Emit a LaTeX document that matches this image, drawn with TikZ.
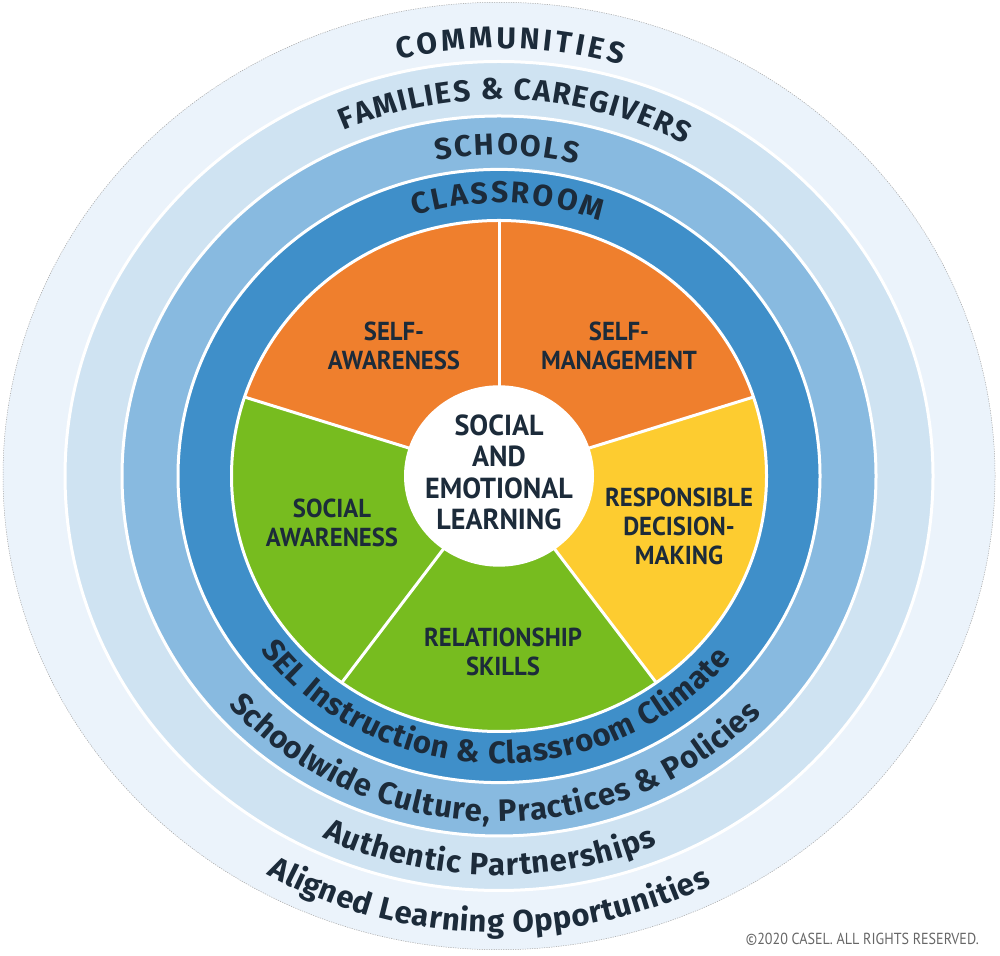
\documentclass[tikz,border=0pt]{standalone}
\usepackage{fontspec}
\setmainfont{PT Sans}
\newfontfamily\lblfont{PT Sans}[FakeStretch=0.95]
\newfontfamily\ctrfont{PT Sans}[FakeStretch=0.97]
\newfontfamily\copyfont{PT Sans}[FakeStretch=0.88]
\newfontfamily\ringfont{Fira Sans}
\definecolor{ringA}{HTML}{EBF3FB}
\definecolor{ringB}{HTML}{CFE3F2}
\definecolor{ringC}{HTML}{88BAE0}
\definecolor{ringD}{HTML}{3F8FC9}
\definecolor{orangeC}{HTML}{EF7F2D}
\definecolor{yellowC}{HTML}{FDCC30}
\definecolor{greenC}{HTML}{77BC1F}
\definecolor{navy}{HTML}{1C2B3A}
\definecolor{copyc}{HTML}{666666}
\newcommand{\ky}{0.955}
\newcommand{\toptxt}{\ringfont\bfseries\fontsize{30}{31}\selectfont}
\newcommand{\bottxt}{\ringfont\bfseries\fontsize{31}{33}\selectfont}
\newdimen\arcW \newdimen\arcP \newdimen\chW
\newcount\arcN
\newbox\arcbox
\newcommand{\arcmeasure}[1]{%
  \pgfinterruptpicture\global\setbox\arcbox=\hbox{#1}\endpgfinterruptpicture
  \global\chW=\wd\arcbox}
% #1 radius, #2 start angle, #3 end angle, #4 font, #5 letters, #6 name prefix
\newcommand{\arclabel}[6]{%
  \global\arcW=0pt \global\arcN=0
  \foreach \ch in {#5}{\arcmeasure{#4\ch}\global\advance\arcW by \chW \global\advance\arcN by 1 }%
  \pgfmathsetmacro{\arcL}{abs(#3-#2)*pi/180*#1}%
  \pgfmathsetmacro{\arcS}{(\arcL-\arcW)/(\arcN-1)}%
  \pgfmathsetmacro{\arcD}{sign(#3-#2)}%
  \pgfmathsetmacro{\arcRy}{\ky*#1}%
  \global\arcP=0pt
  \foreach \ch [count=\i] in {#5}{%
    \arcmeasure{#4\ch}%
    \pgfmathsetmacro{\arcT}{#2+\arcD*(\arcP+0.5*\chW)/#1*180/pi}%
    \pgfmathsetmacro{\arcR}{\arcT+\arcD*90}%
    \node[ringchar, font=#4, rotate=\arcR] (#6\i) at ($(C)+(\arcT:#1 and \arcRy)$) {\ch};
    \global\advance\arcP by \chW
    \global\advance\arcP by \arcS pt
  }%
}
\usetikzlibrary{calc}
\begin{document}
\begin{tikzpicture}[x=1pt,y=1pt,
  sep/.style={white, line width=3pt},
  ringchar/.style={anchor=base, inner sep=0pt, text=navy},
  lbl/.style={font=\lblfont\bfseries\fontsize{26}{29}\selectfont, text=navy, align=center, inner sep=0pt},
  ctr/.style={font=\ctrfont\bfseries\fontsize{29}{31.3}\selectfont, text=navy, align=center, inner sep=0pt},
  copyr/.style={font=\copyfont\fontsize{16}{18}\selectfont, text=copyc, inner sep=0pt}]
\fill[white] (0,0) rectangle (1000,955);
\useasboundingbox (0,0) rectangle (1000,955);
\coordinate (C) at (499,479);
% rings
\fill[ringA] (C) ellipse[x radius=496, y radius=473.7];
\draw[black!35, dash pattern=on 1.2pt off 1.2pt, line width=0.5pt] (C) ellipse[x radius=496, y radius=473.7];
\fill[ringB] (C) ellipse[x radius=434, y radius=414.5];
\fill[ringC] (C) ellipse[x radius=377, y radius=360];
\fill[ringD] (C) ellipse[x radius=321, y radius=306.6];
\draw[sep] (C) ellipse[x radius=434, y radius=414.5];
\draw[sep] (C) ellipse[x radius=377, y radius=360];
\draw[sep] (C) ellipse[x radius=321, y radius=306.6];
% pie
\foreach \a/\b/\c in {90/162/orangeC, 18/90/orangeC, -54/18/yellowC, -126/-54/greenC, -198/-126/greenC}
  \fill[\c] (C) -- ++(\a:268 and 255.9) arc[start angle=\a, end angle=\b, x radius=268, y radius=255.9] -- cycle;
\draw[sep] (C) ellipse[x radius=267.5, y radius=255.5];
\foreach \a in {90,18,-54,-126,162}
  \draw[sep] (C) -- ++(\a:268 and 255.9);
\fill[white] (C) ellipse[x radius=95, y radius=90.7];
% segment labels
\node[lbl] (sa) at (394,609.5) {SELF-\\AWARENESS};
\node[lbl] (sm) at (619,609.5) {SELF-\\MANAGEMENT};
\node[lbl] (soca) at (332,432) {SOCIAL\\AWARENESS};
\node[lbl] (rdm) at (679,429) {RESPONSIBLE\\DECISION-\\MAKING};
\node[lbl] (rs) at (503,303.5) {RELATIONSHIP\\SKILLS};
\node[ctr] (sel) at (499,482.5) {SOCIAL\\AND\\EMOTIONAL\\LEARNING};
% ring labels (top)
\arclabel{448}{103}{74.1}{\toptxt}{C,O,M,M,U,N,I,T,I,E,S}{com}
\arclabel{394}{113.2}{61.9}{\toptxt}{F,A,M,I,L,I,E,S,~,\&,~,C,A,R,E,G,I,V,E,R,S}{fam}
\arclabel{336}{100.7}{76.6}{\toptxt}{S,C,H,O,O,L,S}{sch}
\arclabel{286}{107.2}{69.3}{\toptxt}{C,L,A,S,S,R,O,O,M}{cla}
% ring labels (bottom)
\arclabel{301}{217.5}{320.5}{\bottxt}{S,E,L,~,I,n,s,t,r,u,c,t,i,o,n,~,\&,~,C,l,a,s,s,r,o,o,m,~,C,l,i,m,a,t,e}{sel}
\arclabel{362}{221.6}{316.5}{\bottxt}{S,c,h,o,o,l,w,i,d,e,~,C,u,l,t,u,r,e,{,},~,P,r,a,c,t,i,c,e,s,~,\&,~,P,o,l,i,c,i,e,s}{swc}
\arclabel{418}{245}{292.3}{\bottxt}{A,u,t,h,e,n,t,i,c,~,P,a,r,t,n,e,r,s,h,i,p,s}{aut}
\arclabel{478}{240.9}{296.4}{\bottxt}{A,l,i,g,n,e,d,~,L,e,a,r,n,i,n,g,~,O,p,p,o,r,t,u,n,i,t,i,e,s}{ali}
\node[copyr, anchor=base east] (copy) at (979,11) {©2020 CASEL. ALL RIGHTS RESERVED.};
\end{tikzpicture}
\end{document}
